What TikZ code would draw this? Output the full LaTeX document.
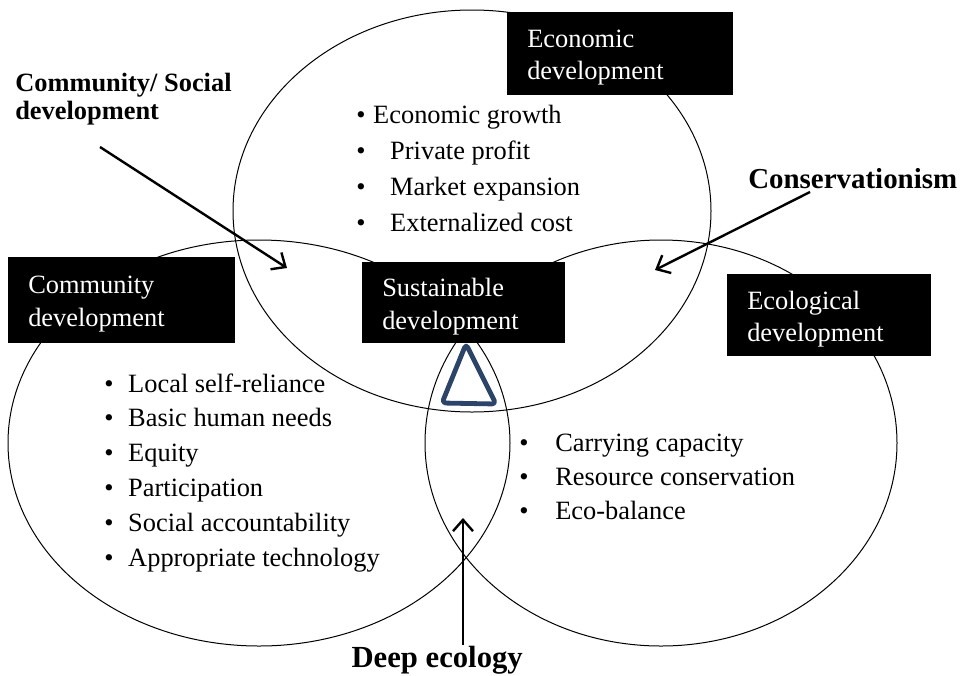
\documentclass[tikz,border=0pt]{standalone}
\usepackage{fontspec}
\setmainfont{Liberation Serif}
\usetikzlibrary{arrows.meta, shapes.geometric}
\definecolor{deltablue}{HTML}{2B4468}

\begin{document}
\begin{tikzpicture}[
        x=0.75pt, y=-0.75pt,
        ring/.style={draw, ellipse, inner sep=0pt, line width=0.75pt},
        darkbox/.style={fill=black, text=white, anchor=north west, inner xsep=15pt, inner ysep=0pt, text depth=23pt, align=left, font=\fontsize{19.8}{24.5}\selectfont},
        itemlist/.style={anchor=base west, inner sep=0pt, align=left},
        heading/.style={anchor=base west, inner sep=0pt, align=left},
        arrow/.style={-{Straight Barb[length=8.5pt, width=15pt]}, line width=1.8pt}
    ]

    \useasboundingbox (0,0) rectangle (960,675);

    \node[ring, minimum width=358.5pt, minimum height=301.5pt] (econring) at (472,211) {};
    \node[ring, minimum width=376.5pt, minimum height=304.5pt] (commring) at (259,443) {};
    \node[ring, minimum width=354pt, minimum height=304.5pt] (ecoring) at (661,443) {};

    \node[darkbox, text width=139.5pt, minimum height=62.25pt] (econ) at (507,12) {Economic\\development};
    \node[darkbox, text width=140pt, minimum height=64.5pt] (comm) at (8,257) {Community\\development};
    \node[darkbox, text width=122pt, minimum height=60.75pt] (sust) at (362,262) {Sustainable\\development};
    \node[darkbox, text width=123pt, minimum height=61.5pt] (eco) at (727,274) {Ecological\\development};

    \node[itemlist, font=\fontsize{19.8}{26.8}\selectfont] (econlist) at (356,231) {%
        \makebox[12.75pt][l]{\textbullet}Economic growth\\
        \makebox[25.5pt][l]{\textbullet}Private profit\\
        \makebox[25.5pt][l]{\textbullet}Market expansion\\
        \makebox[25.5pt][l]{\textbullet}Externalized cost};
    \node[itemlist, font=\fontsize{19.8}{26.1}\selectfont] (commlist) at (104,566) {%
        \makebox[18pt][l]{\textbullet}Local self-reliance\\
        \makebox[18pt][l]{\textbullet}Basic human needs\\
        \makebox[18pt][l]{\textbullet}Equity\\
        \makebox[18pt][l]{\textbullet}Participation\\
        \makebox[18pt][l]{\textbullet}Social accountability\\
        \makebox[18pt][l]{\textbullet}Appropriate technology};
    \node[itemlist, font=\fontsize{19.8}{25.5}\selectfont] (ecolist) at (519,519) {%
        \makebox[27pt][l]{\textbullet}Carrying capacity\\
        \makebox[27pt][l]{\textbullet}Resource conservation\\
        \makebox[27pt][l]{\textbullet}Eco-balance};

    \node[heading, font=\fontsize{19.8}{21}\selectfont\bfseries] (social) at (15,119) {Community/ Social\\development};
    \node[heading, font=\fontsize{21.7}{22}\selectfont\bfseries] (conserv) at (748,188) {Conservationism};
    \node[heading, anchor=base east, font=\fontsize{23}{24}\selectfont\bfseries] (deep) at (523,667) {Deep ecology};

    \draw[deltablue, line width=3.6pt, line join=round, rounded corners=3pt] (466,344) -- (442,403) -- (496,404) -- cycle;

    \coordinate (socialtail) at (100,147);
    \coordinate (socialtip) at (287,268);
    \coordinate (constail) at (810,192);
    \coordinate (constip) at (655,270);
    \coordinate (deeptail) at (463,645);
    \coordinate (deeptip) at (463,518);

    \draw[arrow] (socialtail) -- (socialtip);
    \draw[arrow] (constail) -- (constip);
    \draw[arrow] (deeptail) -- (deeptip);

\end{tikzpicture}
\end{document}
